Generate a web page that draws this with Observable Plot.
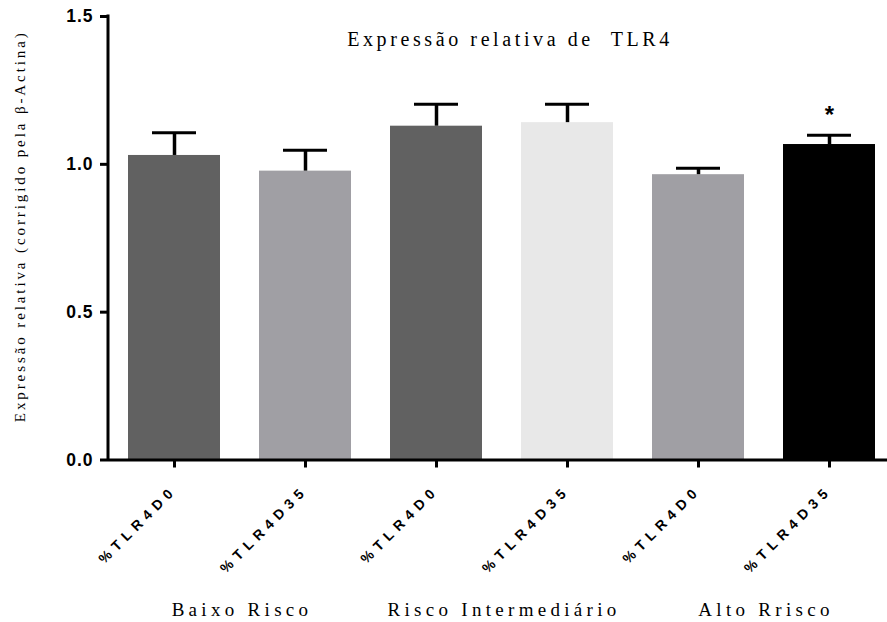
<!DOCTYPE html>
<html><head><meta charset="utf-8">
<script src="https://cdn.jsdelivr.net/npm/d3@7"></script>
<script src="https://cdn.jsdelivr.net/npm/@observablehq/plot@0.6"></script>
<style>
body{margin:0;background:#fff}
.serif text{font-family:"Liberation Serif","Times New Roman",serif}
.ttl text{letter-spacing:3.6px}
.ylab text{letter-spacing:2.9px}
.grp text{letter-spacing:4.3px}
.yt text{font-family:"Liberation Sans",Arial,sans-serif !important;font-size:17.5px !important;font-weight:bold !important;letter-spacing:1px}
.xt text{font-family:"Liberation Sans",Arial,sans-serif !important;font-size:14px !important;font-weight:bold !important;letter-spacing:5.5px}
</style></head><body><div id="chart"></div>
<script>
const ids = ["BR0","BR35","RI0","RI35","AR0","AR35"];
const labels = ["%TLR4D0","%TLR4D35","%TLR4D0","%TLR4D35","%TLR4D0","%TLR4D35"];
const means = [1.030,0.977,1.129,1.141,0.965,1.067];
const upper = [1.107,1.048,1.203,1.203,0.987,1.098];
const colors = ["#616161","#a09fa4","#616161","#e8e8e8","#a09fa4","#000000"];
const significance = ["","","","","","*"];
const groups = ["Baixo Risco","Risco Intermediário","Alto Rrisco"];
const groupStart = ["BR0","RI0","AR0"];
const title = "Expressão relativa de  TLR4";
const yLabel = "Expressão relativa (corrigido pela β-Actina)";
const yTicks = [0,0.5,1.0,1.5];

const idx = d3.range(ids.length);
const xRange = [108, 894];
const step = (xRange[1]-xRange[0])/ids.length;
const sans = "'Liberation Sans', Arial, sans-serif";

// left axis line drawn along the frame edge
function leftAxisLine(index, scales, values, dims) {
  const y0 = dims.height - dims.marginBottom, y1 = dims.marginTop;
  return d3.create("svg:line")
    .attr("x1", dims.marginLeft).attr("x2", dims.marginLeft)
    .attr("y1", y0 + 1.5).attr("y2", y1 - 1.5)
    .attr("stroke", "#000").attr("stroke-width", 3).node();
}

const plot = Plot.plot({
  width: 887, height: 622,
  marginLeft: 108, marginRight: 0, marginTop: 16, marginBottom: 162.5,
  style: {background: "#fff", color: "#000"},
  x: {domain: ids, range: xRange, paddingInner: 0.3, paddingOuter: 0.15},
  y: {domain: [0, 1.5]},
  color: {domain: ids, range: colors},
  marks: [
    Plot.barY(idx, {x: i => ids[i], y: i => means[i], fill: i => ids[i]}),
    Plot.ruleX(idx, {x: i => ids[i], y1: i => means[i], y2: i => upper[i], stroke: "#000", strokeWidth: 3.5}),
    Plot.tickY(idx, {x: i => ids[i], y: i => upper[i], stroke: "#000", strokeWidth: 3, insetLeft: 24, insetRight: 24}),
    Plot.text(idx, {x: i => ids[i], y: i => upper[i], text: i => significance[i], dy: -20, fontSize: 24, fontWeight: "bold", fontFamily: sans}),
    Plot.ruleY([0], {stroke: "#000", strokeWidth: 3}),
    leftAxisLine,
    Plot.axisY({ticks: yTicks, tickFormat: d3.format(".1f"), tickSize: 8, tickPadding: 7, strokeWidth: 3, label: null, className: "yt"}),
    Plot.axisX({tickFormat: d => labels[ids.indexOf(d)], tickRotate: -45, tickSize: 8, tickPadding: 20, strokeWidth: 3, label: null, className: "xt"}),
    Plot.text(groups, {x: (d, i) => groupStart[i], text: d => d, frameAnchor: "bottom", dx: step/2 + 2, dy: 156, fontSize: 19, className: "serif grp"}),
    Plot.text([title], {text: d => d, frameAnchor: "top", dx: 12, dy: 15, fontSize: 20, className: "serif ttl"}),
    Plot.text([yLabel], {text: d => d, frameAnchor: "left", textAnchor: "middle", rotate: -90, dx: -88, dy: -12, fontSize: 15, className: "serif ylab"})
  ]
});
document.getElementById("chart").appendChild(plot);
</script></body></html>
